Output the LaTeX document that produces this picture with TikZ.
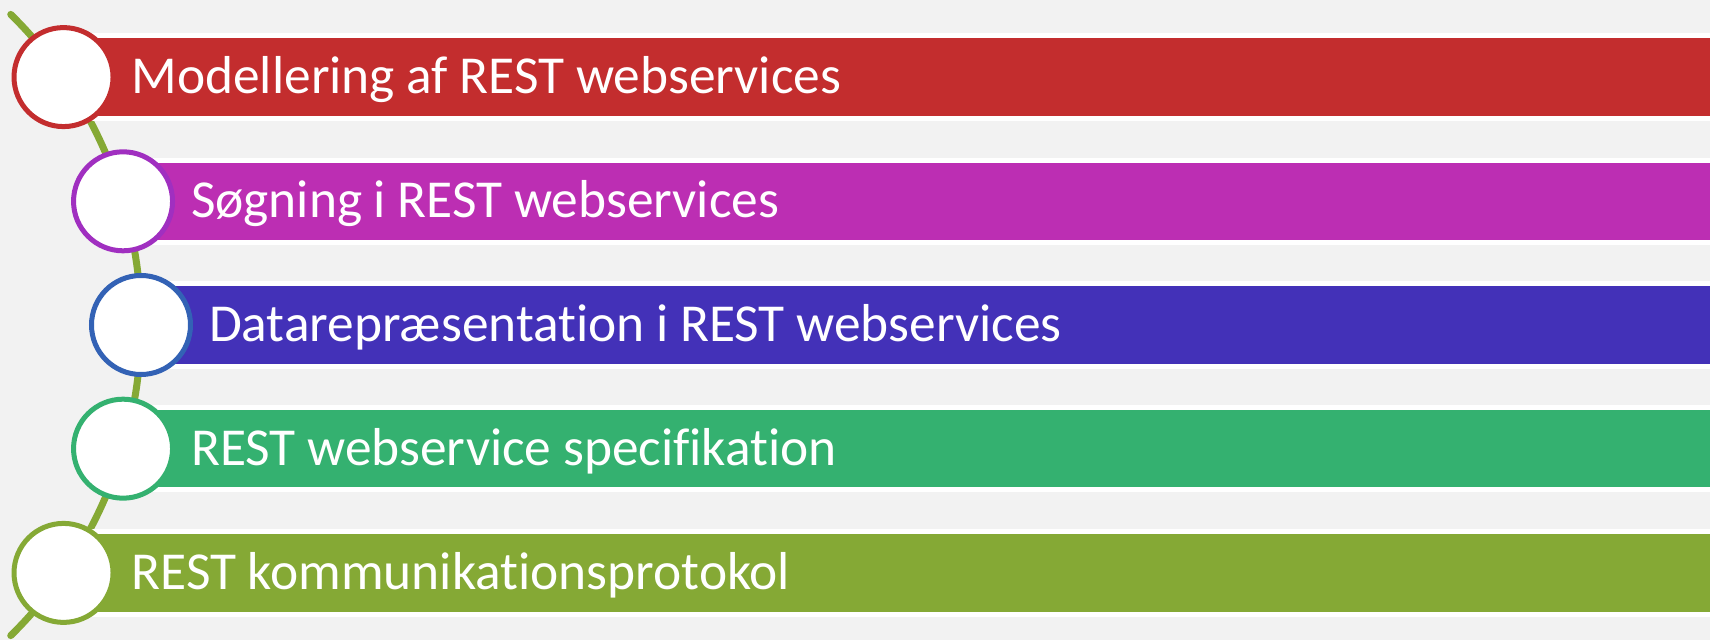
\documentclass[tikz,border=0pt]{standalone}
\usepackage{fontspec}
\setmainfont{Carlito}[Ligatures={NoCommon}]
\usepackage{xcolor}
\definecolor{bgray}{HTML}{F2F2F2}
\definecolor{redbar}{HTML}{C32D2E}
\definecolor{pinkbar}{HTML}{BC2EB3}
\definecolor{pinkring}{HTML}{A02FC0}
\definecolor{bluebar}{HTML}{4331B8}
\definecolor{bluering}{HTML}{3362B5}
\definecolor{greenbar}{HTML}{34B170}
\definecolor{olivebar}{HTML}{85A935}

\begin{document}
\begin{tikzpicture}[x=0.5pt,y=-0.5pt]
        \tikzset{bar style/.style = {draw=white, line width=2.5pt, outer sep=0pt, anchor=west,
                    minimum height=41.2pt, text width=786pt, inner xsep=34pt, align=left,
                    text=white, font=\fontsize{26.7}{30}\selectfont,
                    execute at begin node={\spaceskip=5.8pt\relax},
                    text height=17pt, text depth=0.5pt},
                 ring style/.style = {circle, fill=white, line width=2.5pt, minimum size=49.5pt, inner sep=0pt}}
        \fill[bgray] (0,0) rectangle (1710,640);
        \clip (0,0) rectangle (1710,640);
        \coordinate (hub) at (-294.5,325);
        \draw[olivebar, line width=3.5pt, line cap=round] (hub) ++(-45.5:435.5) arc (-45.5:45.5:435.5);
        \foreach \n/\a/\fc/\rc/\lbl in {1/-34.7/redbar/redbar/Modellering af REST webservices,
                2/-16.5/pinkbar/pinkring/Søgning i REST webservices,
                3/0/bluebar/bluering/Datarepræsentation i REST webservices,
                4/16.5/greenbar/greenbar/REST webservice specifikation,
                5/34.7/olivebar/olivebar/REST kommunikationsprotokol}
            {
            \path (hub) ++(\a:435.5) coordinate (p\n);
            \node[bar style, fill=\fc] (bar\n) at (p\n) {\lbl};
            \node[ring style, draw=\rc] (ring\n) at (p\n) {};
            }
    \end{tikzpicture}
\end{document}
